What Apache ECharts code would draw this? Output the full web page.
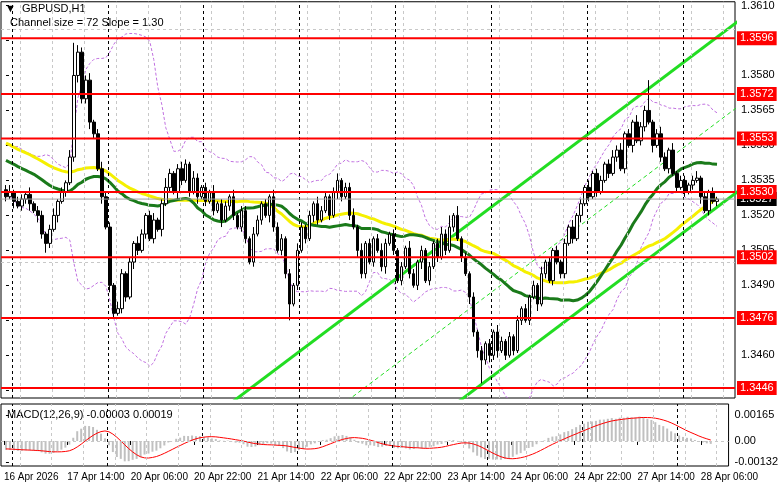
<!DOCTYPE html>
<html><head><meta charset="utf-8">
<script src="https://cdn.jsdelivr.net/npm/echarts@6/dist/echarts.min.js"></script>
<style>html,body{margin:0;padding:0;background:#fff}#c{width:781px;height:489px}</style>
</head><body><div id="c"></div>
<script>
// closes in pips relative to 1.3500 (history = bars before the visible window, used for indicator warm-up)
const historyCloses=[72,70,73,68,66,69,65,63,66,62,60,63,61,58,60,57,55,58,56,54,57,55,52,54,51,53,50,48,51,49,47,50,46,44,47,45,42,44,41,43,40,38,41,39,36,38,35,33,36,31];
const closes=[28,30,26,24,27,29,25,22,20,12,8,14,20,26,
30,34,45,80,90,70,78,60,55,40,28,
15,-10,-22,-20,-5,-15,0,8,5,12,20,10,18,14,
25,32,38,30,40,35,42,30,36,28,
32,26,30,22,25,18,24,28,20,15,22,10,
0,12,18,25,20,28,15,5,10,-5,-18,-10,
5,15,10,20,25,18,22,28,20,30,35,28,32,20,15,5,-5,
8,0,10,5,-2,8,12,5,-8,-2,6,-5,
-10,0,5,-8,-2,8,2,12,5,15,20,10,2,-5,-15,
-30,-38,-42,-35,-40,-30,-38,-34,-40,-32,-38,-25,
-20,-25,-15,-10,-18,-5,0,-8,5,0,-5,8,15,10,20,
25,32,28,38,30,35,42,38,45,48,40,55,50,60,52,
58,65,60,50,55,45,40,48,38,32,35,30,33,35,36,28,22,30,26,27];
const wickUp="2312213122"+"1231213e32"+"2312322132"+"1213212312"+"4212321321"+"2131221312"+"2132121322"+"1213212132"+"2123122313"+"1212321212"+"1321212123"+"2514121212"+"1213212121"+"2121312121"+"2131213122"+"1232312132"+"2d12321312"+"212312121";
const wickDn="2131223132"+"4213121232"+"2321313212"+"2132121213"+"1213212131"+"2121312212"+"2121213212"+"2712121321"+"1213212132"+"2121231212"+"1212312121"+"212121323a"+"2323121212"+"1213121212"+"2121312121"+"1212121312"+"2131212121"+"212131212";
const levels=[1.3596,1.3572,1.3553,1.3530,1.3502,1.3476,1.3446];
const currentPrice=1.3527;
const priceTicks=[1.3610,1.3595,1.3580,1.3565,1.3550,1.3535,1.3520,1.3505,1.3490,1.3475,1.3460,1.3445];
const macdTicks=[0.00165,0,-0.00132];
const dateLabels=['16 Apr 2026','17 Apr 14:00','20 Apr 06:00','20 Apr 22:00','21 Apr 14:00','22 Apr 06:00','22 Apr 22:00','23 Apr 14:00','24 Apr 06:00','24 Apr 22:00','27 Apr 14:00','28 Apr 06:00'];
const channelUpper=[[40,1.34185],[184,1.36042]];
const channelMid=[[70,1.34206],[184,1.35676]];
const channelLower=[[100,1.34230],[184,1.35313]];
const daySeparators=[1.5,25.5,49.5,73.5,97.5,121.5,145.5,169.5];

const XMIN=-1.25, XMAX=182.5;
const P=p=>+(1.35+p/10000).toFixed(5);
const all=historyCloses.concat(closes), H=historyCloses.length;
const candles=closes.map((c,i)=>{const o=i?closes[i-1]:historyCloses[H-1];
 const u=parseInt(wickUp[i]||'1',36), d=parseInt(wickDn[i]||'1',36);
 return [i,P(o),P(c),P(Math.min(o,c)-d),P(Math.max(o,c)+u)];});
function sma(n){return closes.map((_,i)=>{const j=i+H;let s=0;for(let k=j-n+1;k<=j;k++)s+=all[k];return [i,P(s/n)];});}
function boll(n,m){const up=[],dn=[];closes.forEach((_,i)=>{const j=i+H;let s=0;for(let k=j-n+1;k<=j;k++)s+=all[k];const mu=s/n;let v=0;for(let k=j-n+1;k<=j;k++)v+=(all[k]-mu)**2;const sd=Math.sqrt(v/n);up.push([i,P(mu+m*sd)]);dn.push([i,P(mu-m*sd)]);});return [up,dn];}
function ema(n){const a=2/(n+1);let e=all[0];return all.map(v=>e=e+a*(v-e));}
const e12=ema(12),e26=ema(26);const macdAll=all.map((v,i)=>(e12[i]-e26[i])/10000);
const sigAll=macdAll.map((_,i)=>{let s=0,c=0;for(let k=Math.max(0,i-8);k<=i;k++){s+=macdAll[k];c++;}return s/c;});
const macd=closes.map((_,i)=>[i,macdAll[i+H]]), signal=closes.map((_,i)=>[i,sigAll[i+H]]);
const [bu,bd]=boll(20,2);

const F='Liberation Sans';
const ch=echarts.init(document.getElementById('c'));
const grayV=[];for(let k=0;k<24;k++)grayV.push({xAxis:-4.5+8*k,lineStyle:{color:'#c8c8c8',type:[3,3],width:1}});
const blackV=daySeparators.map(x=>({xAxis:x,lineStyle:{color:'#000',type:[3,3],width:1}}));
const hLine=(v,color,width,bg,z)=>({type:'line',data:[[XMIN,v],[XMAX,v]],symbol:'none',z:z,clip:false,
  lineStyle:{color:color,width:width},
  endLabel:{show:true,formatter:v.toFixed(4),backgroundColor:bg,color:'#fff',fontFamily:F,fontSize:11,padding:[2,3,1,3],distance:2}});
ch.setOption({animation:false,
 grid:[{left:1,right:46,top:1,height:397,show:true,borderColor:'#000',borderWidth:1},
       {left:1,right:46,top:404,height:62,show:true,borderColor:'#000',borderWidth:1}],
 xAxis:[{type:'value',gridIndex:0,min:XMIN,max:XMAX,axisLine:{show:false},axisTick:{show:false},axisLabel:{show:false},splitLine:{show:false}},
   {type:'value',gridIndex:1,min:XMIN,max:XMAX,axisLine:{show:false},splitLine:{show:false},
    axisTick:{show:true,customValues:dateLabels.map((_,k)=>16*k-0.5),length:4,inside:false,lineStyle:{color:'#000'}},
    axisLabel:{show:true,customValues:dateLabels.map((_,k)=>16*k-0.5),formatter:v=>dateLabels[Math.round((v+0.5)/16)],align:'left',fontFamily:F,fontSize:10,color:'#000',margin:6}}],
 yAxis:[{type:'value',gridIndex:0,position:'right',min:1.34417,max:1.36116,axisLine:{show:false},splitLine:{show:false},
    axisTick:{show:true,customValues:priceTicks,length:3,lineStyle:{color:'#000'}},
    axisLabel:{customValues:priceTicks,formatter:v=>v.toFixed(4),fontFamily:F,fontSize:11,color:'#000',margin:6}},
   {type:'value',gridIndex:1,position:'right',min:-0.00159,max:0.00235,axisLine:{show:false},splitLine:{show:false},
    axisTick:{show:true,customValues:macdTicks,length:3,lineStyle:{color:'#000'}},
    axisLabel:{customValues:macdTicks,formatter:v=>v===0?'0.00':v.toFixed(5),fontFamily:F,fontSize:11,color:'#000',margin:6}}],
 graphic:[{type:'text',left:5,top:3,style:{text:'▼  GBPUSD,H1',font:'11px Liberation Sans',fill:'#000'}},
   {type:'text',left:10,top:17,style:{text:'Channel size = 72 Slope = 1.30',font:'11px Liberation Sans',fill:'#000'}},
   {type:'text',left:7,top:409,style:{text:'MACD(12,26,9) -0.00003 0.00019',font:'11px Liberation Sans',fill:'#000'}}],
 series:[
  {type:'line',data:[],xAxisIndex:0,yAxisIndex:0,markLine:{silent:true,symbol:'none',label:{show:false},
     data:grayV.concat(blackV).concat(priceTicks.map(t=>({yAxis:t,lineStyle:{color:'#c8c8c8',type:[3,3],width:1}})))}},
  {type:'line',data:[],xAxisIndex:1,yAxisIndex:1,markLine:{silent:true,symbol:'none',label:{show:false},
     data:grayV.concat(blackV).concat([{yAxis:0,lineStyle:{color:'#c8c8c8',type:[3,3],width:1}}])}},
  {type:'line',data:bu,symbol:'none',lineStyle:{color:'#c070e0',width:1,type:[3,2]},z:2},
  {type:'line',data:bd,symbol:'none',lineStyle:{color:'#c070e0',width:1,type:[3,2]},z:2},
  {type:'line',data:channelUpper,symbol:'none',lineStyle:{color:'#22dd22',width:3},z:3},
  {type:'line',data:channelLower,symbol:'none',lineStyle:{color:'#22dd22',width:3},z:3},
  {type:'line',data:channelMid,symbol:'none',lineStyle:{color:'#22dd22',width:1,type:[4,3]},z:3},
  {type:'line',data:sma(50),symbol:'none',lineStyle:{color:'#f5f000',width:3},z:4},
  {type:'line',data:sma(30),symbol:'none',lineStyle:{color:'#1a7a1a',width:3},z:4},
  {type:'candlestick',data:candles,barWidth:3,z:5,
   itemStyle:{color:'#fff',color0:'#000',borderColor:'#000',borderColor0:'#000',borderWidth:1}},
  hLine(currentPrice,'#a0a0a0',1,'#000',6)
 ].concat(levels.map(l=>hLine(l,'#ff0000',2,'#ff0000',7))).concat([
  {type:'bar',data:macd,xAxisIndex:1,yAxisIndex:1,barWidth:2,itemStyle:{color:'#c0c0c0'}},
  {type:'line',data:signal,xAxisIndex:1,yAxisIndex:1,symbol:'none',lineStyle:{color:'#ff0000',width:1}}
 ])});
</script></body></html>
